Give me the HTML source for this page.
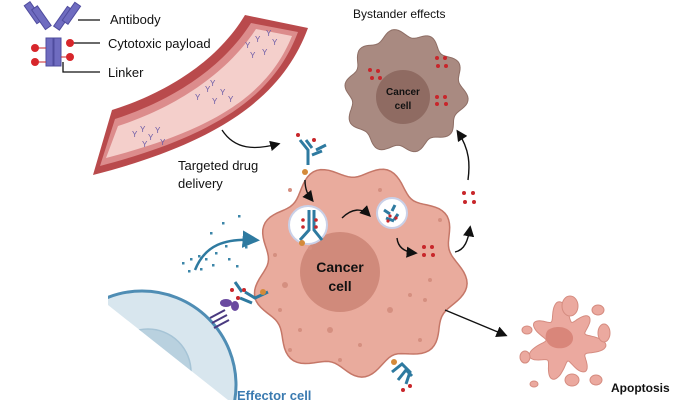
<!DOCTYPE html>
<html><head><meta charset="utf-8"><style>
html,body{margin:0;padding:0;background:#fff;overflow:hidden}
svg{display:block}
text{font-family:"Liberation Sans",Arial,sans-serif}
</style></head><body>
<svg id="s" width="700" height="400" viewBox="0 0 700 400" xmlns="http://www.w3.org/2000/svg">
<defs>
<marker id="ah" markerWidth="8" markerHeight="8" refX="6" refY="4" orient="auto"><path d="M0,0 L8,4 L0,8 z" fill="#111"/></marker>
<marker id="ahb" markerWidth="7" markerHeight="7" refX="5" refY="3.5" orient="auto"><path d="M0,0 L7,3.5 L0,7 z" fill="#2e7aa0"/></marker>
<clipPath id="cut"><polygon points="108,305 228,400 300,400 300,250 108,250"/></clipPath>
</defs>
<g clip-path="url(#cut)">
<circle cx="142" cy="385" r="94" fill="#d8e6ee" stroke="#4f8db4" stroke-width="3"/>
<circle cx="148" cy="372" r="43" fill="#b9d1df" stroke="#a6c4d6" stroke-width="1.5"/>
</g>
<!-- blood vessel -->
<path d="M112,110 C160,95 215,65 245,15 L308,28 C285,90 230,140 93,175 Z" fill="#b94a4c"/>
<path d="M115,119 C165,103 220,72 251,23 L298,32 C276,90 226,133 100,166 Z" fill="#dc8c8c"/>
<path d="M118,126 C168,110 224,78 256,29 L292,36 C270,90 222,128 106,158 Z" fill="#f4cfcb"/>
<g id="vdots" fill="#6a5aa6" font-size="8"></g>
<path d="M222,130 C235,150 255,150 278,144" stroke="#111" stroke-width="1.3" fill="none" marker-end="url(#ah)"/>
<!-- legend antibody -->
<g fill="#6f6cc0" stroke="#4f4c9e" stroke-width="1">
<rect x="30" y="2" width="7" height="22" transform="rotate(-35 33 13)"/>
<rect x="38" y="6" width="7" height="24" transform="rotate(-35 41 18)"/>
<rect x="60" y="6" width="7" height="24" transform="rotate(35 63 18)"/>
<rect x="68" y="2" width="7" height="22" transform="rotate(35 71 13)"/>
<rect x="46" y="38" width="7" height="28"/><rect x="54" y="38" width="7" height="28"/>
</g>
<g stroke="#111" stroke-width="1.3" fill="none"><line x1="78" y1="20" x2="100" y2="20"/><line x1="70" y1="43" x2="100" y2="43"/><polyline points="63,62 63,72 100,72"/></g>
<g stroke="#c8262b" stroke-width="1"><line x1="36" y1="48" x2="46" y2="48"/><line x1="36" y1="62" x2="46" y2="62"/><line x1="61" y1="57" x2="70" y2="57"/></g>
<g fill="#d7262b"><circle cx="35" cy="48" r="4"/><circle cx="35" cy="62" r="4"/><circle cx="70" cy="43" r="4"/><circle cx="70" cy="57" r="4"/></g>
<text x="110" y="24" font-size="13" fill="#111">Antibody</text>
<text x="108" y="48" font-size="13" fill="#111">Cytotoxic payload</text>
<text x="108" y="77" font-size="13" fill="#111">Linker</text>
<text x="178" y="170" font-size="13" fill="#111">Targeted drug</text>
<text x="178" y="188" font-size="13" fill="#111">delivery</text>
<text x="353" y="18" font-size="12" fill="#111">Bystander effects</text>
<path id="big" fill="#e9ab9d" stroke="#c57768" stroke-width="1.5"/>
<path id="bys" fill="#a98a81" stroke="#8e6e65" stroke-width="1"/>
<circle cx="403" cy="97" r="27" fill="#8f6b62"/>
<text x="403" y="95" font-size="10" font-weight="bold" text-anchor="middle" fill="#111">Cancer</text>
<text x="403" y="109" font-size="10" font-weight="bold" text-anchor="middle" fill="#111">cell</text>
<circle cx="340" cy="272" r="40" fill="#d08a7b"/>
<text x="340" y="272" font-size="14" font-weight="bold" text-anchor="middle" fill="#111">Cancer</text>
<text x="340" y="291" font-size="14" font-weight="bold" text-anchor="middle" fill="#111">cell</text>
<g id="spots"></g>
<circle cx="308" cy="225" r="19" fill="#fff" stroke="#c9d0e8" stroke-width="2"/>
<circle cx="392" cy="213" r="15" fill="#fff" stroke="#c9d0e8" stroke-width="2"/>
<g stroke="#2e7aa0" stroke-width="3" fill="none">
<path d="M309,210 L309,230 L300,240 M314,210 L314,230 L322,240"/>
<path d="M384,210 l6,4 M395,205 l-3,6 M386,218 l8,3 M398,214 l-4,6"/>
<path d="M300,140 L308,150 L308,165 M306,140 L312,148 M316,150 l10,-5 M312,155 l10,-4"/>
<path d="M245,292 L255,298 L268,292 M240,298 L252,303 M235,282 L242,292"/>
<path d="M392,372 l10,-8 l8,8 l-4,12 M398,380 l8,-10 l6,6"/>
</g>
<g fill="#c8262b">
<circle cx="303" cy="220" r="1.8"/><circle cx="303" cy="227" r="1.8"/><circle cx="316" cy="220" r="1.8"/><circle cx="316" cy="227" r="1.8"/>
<circle cx="390" cy="216" r="1.6"/><circle cx="396" cy="218" r="1.6"/><circle cx="388" cy="221" r="1.6"/>
<circle cx="424" cy="247" r="2"/><circle cx="432" cy="247" r="2"/><circle cx="424" cy="255" r="2"/><circle cx="433" cy="255" r="2"/>
<circle cx="464" cy="193" r="2"/><circle cx="473" cy="193" r="2"/><circle cx="465" cy="202" r="2"/><circle cx="474" cy="202" r="2"/>
<circle cx="370" cy="70" r="2"/><circle cx="378" cy="71" r="2"/><circle cx="372" cy="78" r="2"/><circle cx="380" cy="78" r="2"/>
<circle cx="437" cy="58" r="2"/><circle cx="445" cy="58" r="2"/><circle cx="438" cy="66" r="2"/><circle cx="446" cy="66" r="2"/>
<circle cx="437" cy="97" r="2"/><circle cx="445" cy="97" r="2"/><circle cx="437" cy="104" r="2"/><circle cx="446" cy="104" r="2"/>
<circle cx="232" cy="290" r="2"/><circle cx="238" cy="298" r="2"/><circle cx="244" cy="290" r="2"/>
<circle cx="298" cy="135" r="2"/><circle cx="314" cy="140" r="2"/>
<circle cx="403" cy="390" r="2"/><circle cx="410" cy="386" r="2"/>
</g>
<g fill="#d48a3a"><circle cx="302" cy="243" r="3"/><circle cx="305" cy="172" r="3"/><circle cx="263" cy="292" r="3"/><circle cx="394" cy="362" r="3"/></g>
<g fill="#6a4aa0"><ellipse cx="226" cy="303" rx="6" ry="4"/><ellipse cx="235" cy="306" rx="4" ry="5"/></g>
<g stroke="#4a3a80" stroke-width="2"><line x1="210" y1="318" x2="225" y2="310"/><line x1="212" y1="323" x2="227" y2="315"/><line x1="214" y1="328" x2="229" y2="320"/></g>
<g id="drug" fill="#3c86a8"></g>
<path d="M195,270 C205,245 225,238 255,240" stroke="#2e7aa0" stroke-width="2.5" fill="none" marker-end="url(#ahb)"/>
<g stroke="#111" stroke-width="1.4" fill="none" marker-end="url(#ah)">
<path d="M305,180 C305,190 308,195 312,200"/>
<path d="M342,218 C352,208 362,208 369,215"/>
<path d="M397,238 C398,248 405,252 415,253"/>
<path d="M455,252 C465,250 468,240 470,228"/>
<path d="M468,180 C470,165 470,150 458,132"/>
<path d="M445,310 L505,335"/>
</g>
<path id="apo" fill="#eba99f" stroke="#d58c80" stroke-width="1"/>
<g fill="#eba99f" stroke="#d58c80"><ellipse cx="570" cy="306" rx="8" ry="10"/><ellipse cx="598" cy="310" rx="6" ry="5"/><ellipse cx="604" cy="333" rx="6" ry="9"/><ellipse cx="527" cy="330" rx="5" ry="4"/><ellipse cx="525" cy="357" rx="5" ry="6"/><ellipse cx="572" cy="380" rx="7" ry="6"/><ellipse cx="596" cy="380" rx="6" ry="5"/><ellipse cx="534" cy="384" rx="4" ry="3"/></g>
<path d="M548,330 C555,325 568,326 572,334 C576,342 568,350 556,348 C546,346 543,336 548,330 Z" fill="#d9867a"/>
<text x="611" y="392" font-size="12" font-weight="bold" fill="#111">Apoptosis</text>
<text x="237" y="400" font-size="13" font-weight="bold" fill="#3a7ab0">Effector cell</text>
</svg>
<script>
function wavy(cx,cy,r,amp,n,ph){var d="";for(var i=0;i<=180;i++){var a=i/180*Math.PI*2;var rr=r+amp*Math.sin(n*a+ph)+amp*0.4*Math.sin(3*a+1);var x=cx+rr*Math.cos(a),y=cy+rr*Math.sin(a);d+=(i?"L":"M")+x.toFixed(1)+","+y.toFixed(1);}return d+"Z";}
document.getElementById("big").setAttribute("d",wavy(358,272,100,7,9,0.5));
document.getElementById("bys").setAttribute("d",wavy(405,92,58,4,10,0.3));
document.getElementById("apo").setAttribute("d",wavy(565,342,30,8,7,1));
var sp=document.getElementById("spots"),ns="http://www.w3.org/2000/svg";
[[290,190,2],[310,248,2],[285,285,3],[300,330,2],[330,330,3],[360,345,2],[390,310,3],[425,300,2],[430,280,2],[410,295,2],[380,190,2],[290,350,2],[340,360,2],[420,340,2],[440,220,2],[275,255,2],[280,310,2]].forEach(function(p){var c=document.createElementNS(ns,"circle");c.setAttribute("cx",p[0]);c.setAttribute("cy",p[1]);c.setAttribute("r",p[2]);c.setAttribute("fill","#d58f80");sp.appendChild(c);});
var vd=document.getElementById("vdots");
[[132,137],[140,132],[148,140],[155,133],[160,145],[142,147],[195,100],[205,92],[212,104],[220,95],[228,102],[210,86],[245,48],[255,42],[262,55],[272,45],[266,36],[250,58]].forEach(function(p){var t=document.createElementNS(ns,"text");t.setAttribute("x",p[0]);t.setAttribute("y",p[1]);t.textContent="Y";vd.appendChild(t);});
var dg=document.getElementById("drug");
[[182,262],[190,258],[198,255],[205,258],[188,270],[200,268],[215,252],[212,264],[225,245],[228,258],[245,246],[236,265],[222,222],[238,215],[210,232]].forEach(function(p){var c=document.createElementNS(ns,"rect");c.setAttribute("x",p[0]);c.setAttribute("y",p[1]);c.setAttribute("width",2.5);c.setAttribute("height",2.5);dg.appendChild(c);});
</script>
</body></html>
